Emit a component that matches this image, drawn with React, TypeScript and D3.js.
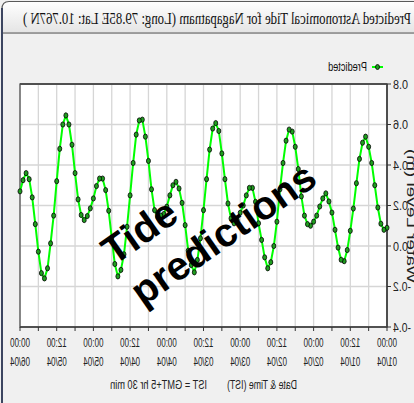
import * as d3 from "d3";

// hourly predicted tide (m), from 01/04 00:00 to 06/04 00:00
const tideLevels = [
  0.09, 0.08, 0.11, 0.19, 0.3, 0.41, 0.49, 0.54, 0.51, 0.43, 0.31, 0.185,
  0.075, -0.02, -0.075, -0.068, -0.008, 0.08, 0.165, 0.22, 0.26, 0.235, 0.195, 0.15,
  0.12, 0.1, 0.108, 0.15, 0.245, 0.38, 0.49, 0.565, 0.575, 0.52, 0.41, 0.28,
  0.12, 0.0, -0.08, -0.11, -0.056, 0.03, 0.112, 0.218, 0.287, 0.287, 0.25, 0.2,
  0.164, 0.128, 0.112, 0.136, 0.21, 0.33, 0.457, 0.568, 0.607, 0.58, 0.476, 0.33,
  0.177, 0.038, -0.069, -0.13, -0.094, -0.023, 0.103, 0.213, 0.284, 0.317, 0.3, 0.25,
  0.194, 0.158, 0.15, 0.144, 0.177, 0.28, 0.42, 0.54, 0.624, 0.62, 0.55, 0.41,
  0.25, 0.095, -0.041, -0.118, -0.15, -0.089, 0.04, 0.174, 0.276, 0.333, 0.333, 0.296,
  0.235, 0.186, 0.148, 0.128, 0.153, 0.23, 0.36, 0.5, 0.6, 0.645, 0.6, 0.48,
  0.32, 0.15, 0.013, -0.11, -0.16, -0.134, -0.028, 0.108, 0.24, 0.33, 0.36, 0.325,
  0.27,
];

const tickHours = [0, 12, 24, 36, 48, 60, 72, 84, 96, 108, 120];
const tickTimes = ["00:00", "12:00", "00:00", "12:00", "00:00", "12:00", "00:00", "12:00", "00:00", "12:00", "00:00"];
const tickDates = ["01/04", "01/04", "02/04", "02/04", "03/04", "03/04", "04/04", "04/04", "05/04", "05/04", "06/04"];
const gridHours = d3.range(0, 121, 6);
const yTicks = [-0.4, -0.2, 0.0, 0.2, 0.4, 0.6, 0.8];

const title = "Predicted Astronomical Tide for Nagapatnam (Long: 79.85E  Lat: 10.767N )";

export default function App() {
  const W = 414;
  const H = 403;
  const left = 27, right = 394, top = 84, bottom = 327;

  const x = d3.scaleLinear().domain([0, 120]).range([left, right]);
  const y = d3.scaleLinear().domain([-0.4, 0.8]).range([bottom, top]);

  const line = d3
    .line<number>()
    .x((_, i) => x(i))
    .y((d) => y(d));

  const sans = "Liberation Sans, Arial, sans-serif";

  return (
    <svg
      width={W}
      height={H}
      style={{ position: "absolute", left: 0, top: 0, display: "block" }}
    >
      <defs>
        <linearGradient id="bar" x1="0" y1="0" x2="0" y2="1">
          <stop offset="0" stopColor="#ffffff" />
          <stop offset="1" stopColor="#e4e4e4" />
        </linearGradient>
      </defs>
      <rect width={W} height={H} fill="#f0f0f0" />

      {/* the whole chart is shown mirrored */}
      <g transform={`translate(${W},0) scale(-1,1)`}>
        <path
          d="M-2,1.5 H405 Q412,1.5 412,9 V33 H-2 Z"
          fill="url(#bar)"
          stroke="#5a5a5a"
          strokeWidth={1.2}
        />
        <line x1={-2} x2={412} y1={33.5} y2={33.5} stroke="#9a9a9a" />
        <line x1={412} x2={412} y1={8} y2={H} stroke="#3c4560" strokeWidth={2} />
        <text
          x={3}
          y={24}
          fontFamily="Liberation Serif, Times New Roman, serif"
          fontSize={16.5}
          fill="#111"
          textLength={388}
          lengthAdjust="spacingAndGlyphs"
        >
          {title}
        </text>

        {/* legend */}
        <line x1={31} x2={42} y1={67} y2={67} stroke="#00ff00" strokeWidth={2} />
        <ellipse cx={36.5} cy={67} rx={2} ry={2.5} fill="#1f9e1f" stroke="#000" strokeWidth={0.8} />
        <text x={47} y={71} fontFamily={sans} fontSize={12} fill="#111" textLength={39} lengthAdjust="spacingAndGlyphs">
          Predicted
        </text>

        {/* plot area */}
        <rect x={left} y={top} width={right - left} height={bottom - top} fill="#ffffff" />
        {gridHours.map((h) => (
          <line key={"gx" + h} x1={x(h)} x2={x(h)} y1={top} y2={bottom} stroke="#d6d6d6" strokeWidth={1.3} />
        ))}
        {yTicks.map((v) => (
          <line key={"gy" + v} x1={left} x2={right} y1={y(v)} y2={y(v)} stroke="#d6d6d6" strokeWidth={1.3} />
        ))}
        <rect x={left} y={top} width={right - left} height={bottom - top} fill="none" stroke="#555" strokeWidth={1.3} />
        <line x1={left} x2={right} y1={top} y2={top} stroke="#505050" strokeWidth={2.2} />
        <line x1={left} x2={left} y1={top} y2={bottom} stroke="#404040" strokeWidth={1.6} />
        <line x1={left} x2={right} y1={bottom} y2={bottom} stroke="#404040" strokeWidth={1.6} />

        {/* x axis */}
        {gridHours.map((h) => (
          <line key={"tx" + h} x1={x(h)} x2={x(h)} y1={bottom} y2={bottom + 4} stroke="#333" />
        ))}
        {tickHours.map((h, i) => (
          <g key={"lx" + h} fontFamily={sans} fontSize={12} fill="#222" textAnchor="middle">
            <text x={x(h)} y={347} textLength={20} lengthAdjust="spacingAndGlyphs">
              {tickTimes[i]}
            </text>
            <text x={x(h)} y={366} textLength={20} lengthAdjust="spacingAndGlyphs">
              {tickDates[i]}
            </text>
          </g>
        ))}
        <text x={117} y={389} fontFamily={sans} fontSize={12} fill="#222" textLength={70} lengthAdjust="spacingAndGlyphs">
          Date &amp; Time (IST)
        </text>
        <text x={207} y={389} fontFamily={sans} fontSize={12} fill="#222" textLength={97} lengthAdjust="spacingAndGlyphs">
          IST = GMT+5 hr 30 min
        </text>

        {/* y axis */}
        {yTicks.map((v) => (
          <g key={"ly" + v}>
            <line x1={left - 4} x2={left} y1={y(v)} y2={y(v)} stroke="#333" />
            <text
              x={21}
              y={y(v) + 4.5}
              textAnchor="end"
              fontFamily={sans}
              fontSize={12.5}
              fill="#222"
              textLength={v < 0 ? 18 : 15}
              lengthAdjust="spacingAndGlyphs"
            >
              {v.toFixed(1)}
            </text>
          </g>
        ))}
        <text
          transform={`translate(7,${216}) scale(0.65,1) rotate(-90)`}
          textAnchor="middle"
          fontFamily={sans}
          fontSize={19}
          fill="#222"
        >
          Water Level (m)
        </text>

        {/* series */}
        <path d={line(tideLevels) ?? ""} fill="none" stroke="#00ff00" strokeWidth={2} />
        {tideLevels.map((v, i) => (
          <ellipse key={"p" + i} cx={x(i)} cy={y(v)} rx={2} ry={2.6} fill="#1f9e1f" stroke="#000" strokeWidth={0.8} />
        ))}
      </g>

      {/* watermark */}
      <g transform="translate(114,266) rotate(-35)" fontFamily={sans} fontSize={40} fontWeight="bold" fill="#000">
        <text x={0} y={0}>Tide</text>
        <text x={0} y={50}>predictions</text>
      </g>
    </svg>
  );
}
